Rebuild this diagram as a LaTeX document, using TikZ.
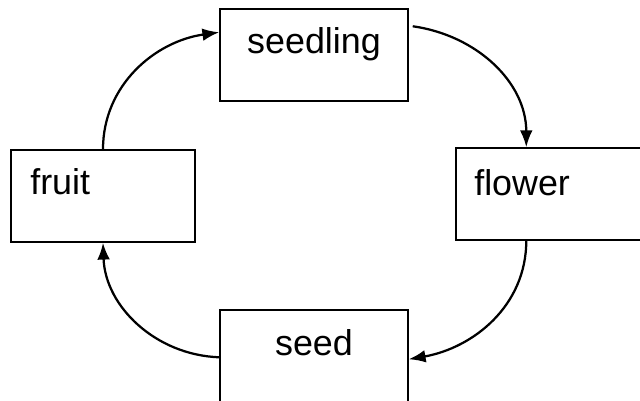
\documentclass[tikz,border=0pt]{standalone}
\usepackage{fontspec}
\setmainfont{Liberation Sans}
\usepackage{tikz}
\usetikzlibrary{arrows.meta,calc}

\tikzset{box/.style={draw,line width=1pt,minimum width=4.7cm,minimum height=2.3cm,inner sep=0pt},
         lbl/.style={font=\fontsize{25.5}{30}\selectfont,inner sep=0pt},
         cyc/.style={line width=1.6pt,-{Latex[length=12pt,width=9pt]}}}

\begin{document}
\begin{tikzpicture}[x=0.025cm,y=0.025cm]
   \useasboundingbox (0,0) rectangle (640,401);
   \clip (0,0) rectangle (640,401);
   % boxes
   \node[box] (seedling) at (314,346) {};
   \node[box,minimum width=4.6cm] (fruit) at (103,205) {};
   \node[box] (flower) at (550,207) {};
   \node[box,minimum height=2.6cm] (seed) at (314,39) {};
   % texts
   \node[lbl] (seedlingtxt) at (314,357) {seedling};
   \node[lbl,anchor=west] (fruittxt) at (30,219) {fruit};
   \node[lbl,anchor=west] (flowertxt) at (474,218) {flower};
   \node[lbl] (seedtxt) at (314,58) {seed};
   % cycle
   \draw[cyc] (fruit.north) to[out=90,in=188] ($(seedling.north west)+(0,-24)$);
   \draw[cyc] ($(seedling.north east)+(4,-18)$) to[out=-8,in=90] ($(flower.north west)+(71,0)$);
   \draw[cyc] ($(flower.south west)+(71,0)$) to[out=-90,in=10] ($(seed.north east)+(0,-50)$);
   \draw[cyc] ($(seed.north west)+(0,-48)$) to[out=178,in=-88] (fruit.south);
\end{tikzpicture}
\end{document}
